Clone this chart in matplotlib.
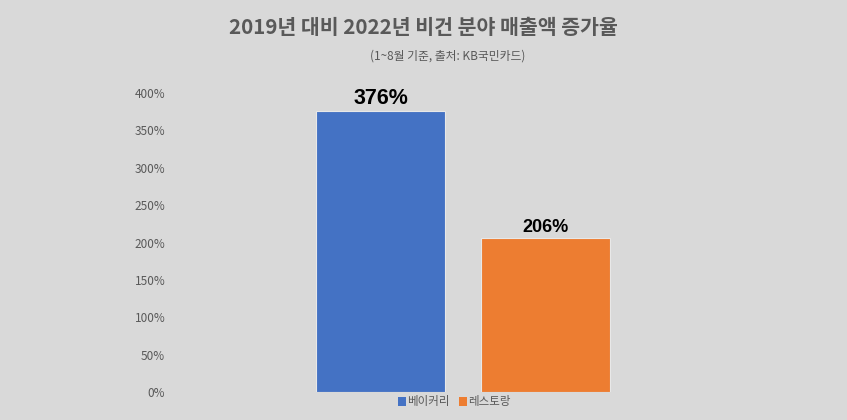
import matplotlib.pyplot as plt
from matplotlib.patches import Patch

plt.rcParams['font.family'] = ['Noto Sans CJK KR', 'DejaVu Sans']

categories = ["베이커리", "레스토랑"]
values = [3.76, 2.06]
value_labels = ["376%", "206%"]
colors = ["#4472C4", "#ED7D31"]
yticks = [0, 0.5, 1, 1.5, 2, 2.5, 3, 3.5, 4]
ytick_labels = ["0%", "50%", "100%", "150%", "200%", "250%", "300%", "350%", "400%"]

bg = "#D9D9D9"
fig = plt.figure(figsize=(8.47, 4.20), dpi=100, facecolor=bg)
ax = fig.add_axes([175 / 847, 1 - 392 / 420, (751 - 175) / 847, (392 - 93) / 420])
ax.set_facecolor(bg)

x = [0, 1]
ax.bar(x, values, width=0.784, color=colors, edgecolor="#E8E8E8", linewidth=0.8)
ax.set_xlim(-1.249, 2.252)
ax.set_ylim(0, 4)
ax.set_yticks(yticks)
ax.set_yticklabels(ytick_labels, color="#595959", fontsize=8.5)
ax.set_xticks([])
ax.tick_params(axis="y", length=0, pad=7)
for s in ax.spines.values():
    s.set_visible(False)

sizes = [15.5, 13]
for xi, v, lab, fs in zip(x, values, value_labels, sizes):
    ax.text(xi, v + 0.03, lab, ha="center", va="bottom", fontsize=fs,
            fontweight="bold", color="black", family=["Liberation Sans", "DejaVu Sans"])

fig.text(423 / 847, 1 - 28 / 420, "2019년 대비 2022년 비건 분야 매출액 증가율", ha="center", va="center",
         fontsize=14.8, fontweight="bold", color="#595959")
fig.text(448 / 847, 1 - 56 / 420, "(1~8월 기준, 출처: KB국민카드)", ha="center", va="center",
         fontsize=8.5, color="#595959")

handles = [Patch(facecolor=c, edgecolor="none") for c in colors]
fig.legend(handles, categories, loc="center", bbox_to_anchor=(454 / 847, 1 - 402 / 420), ncol=2,
           frameon=False, fontsize=8.3, handlelength=0.7, handleheight=0.7, handletextpad=0.1,
           columnspacing=0.8, labelcolor="#595959")

fig.savefig("out.png", dpi=100, facecolor=bg)
